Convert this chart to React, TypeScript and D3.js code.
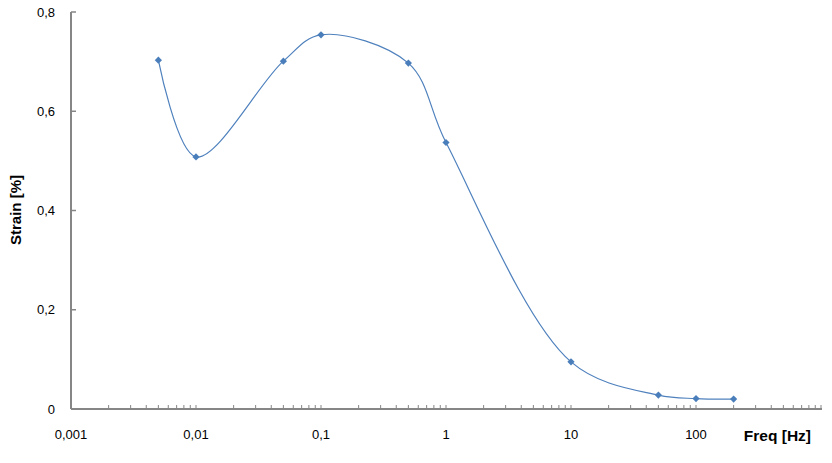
import React from "react";
import * as d3 from "d3";

const freqs = [0.005, 0.01, 0.05, 0.1, 0.5, 1, 10, 50, 100, 200];
const strain = [0.703, 0.508, 0.701, 0.754, 0.697, 0.537, 0.095, 0.028, 0.021, 0.02];
const xTickValues = [0.001, 0.01, 0.1, 1, 10, 100];
const xTickLabels = ["0,001", "0,01", "0,1", "1", "10", "100"];
const yTickValues = [0, 0.2, 0.4, 0.6, 0.8];
const yTickLabels = ["0", "0,2", "0,4", "0,6", "0,8"];

const W = 832;
const H = 463;
const left = 71;
const right = 821;
const top = 12;
const bottom = 409;

export default function App() {
  const x = d3.scaleLog().domain([0.001, 1000]).range([left, right]);
  const y = d3.scaleLinear().domain([0, 0.8]).range([bottom, top]);

  const pts: [number, number][] = freqs.map((f, i) => [x(f), y(strain[i])]);
  const line = d3.line().curve(d3.curveCatmullRom.alpha(0.5))(pts) || "";

  const minorTicks: number[] = [];
  for (let e = -3; e < 3; e++) {
    for (let m = 1; m <= 9; m++) {
      const v = m * Math.pow(10, e);
      if (v > 0.001) minorTicks.push(v);
    }
  }
  minorTicks.push(1000);

  const font = "Liberation Sans, Arial, sans-serif";
  const axisColor = "#868686";
  const diamond = d3.symbol().type(d3.symbolSquare).size(26)() || "";

  return (
    <svg
      width={W}
      height={H}
      style={{ position: "absolute", left: 0, top: 0, background: "#fff" }}
      fontFamily={font}
    >
      {/* Y axis */}
      <line x1={left} y1={top} x2={left} y2={bottom} stroke={axisColor} strokeWidth={2} />
      {yTickValues.map((v, i) => (
        <g key={"y" + i}>
          <line x1={left} x2={left + 5} y1={y(v)} y2={y(v)} stroke={axisColor} strokeWidth={1.5} />
          <text x={55} y={y(v)} dy="0.35em" textAnchor="end" fontSize={13} fill="#000">
            {yTickLabels[i]}
          </text>
        </g>
      ))}
      {/* X axis */}
      <line x1={left} y1={bottom} x2={right + 1} y2={bottom} stroke={axisColor} strokeWidth={2} />
      {minorTicks.map((v, i) => (
        <line key={"m" + i} x1={x(v)} x2={x(v)} y1={bottom} y2={bottom - 4} stroke={axisColor} strokeWidth={1} />
      ))}
      {xTickValues.map((v, i) => (
        <text key={"xl" + i} x={x(v)} y={439} textAnchor="middle" fontSize={13} fill="#000">
          {xTickLabels[i]}
        </text>
      ))}
      <text x={811} y={441} textAnchor="end" fontSize={15.5} fontWeight="bold" fill="#000">
        Freq [Hz]
      </text>
      <text
        transform={`translate(21,210) rotate(-90)`}
        textAnchor="middle"
        fontSize={15}
        fontWeight="bold"
        fill="#000"
      >
        Strain [%]
      </text>
      {/* series */}
      <path d={line} fill="none" stroke="#4F81BD" strokeWidth={1.2} />
      {pts.map((p, i) => (
        <path key={"p" + i} d={diamond} transform={`translate(${p[0]},${p[1]}) rotate(45)`} fill="#4A7EBB" />
      ))}
    </svg>
  );
}
